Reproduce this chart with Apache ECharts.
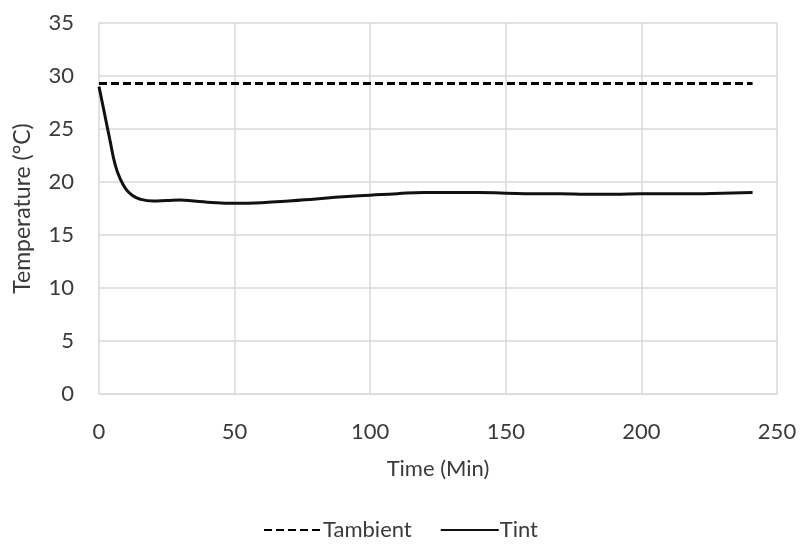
<!DOCTYPE html>
<html>
<head>
<meta charset="utf-8">
<script src="https://cdn.jsdelivr.net/npm/echarts@6/dist/echarts.min.js"></script>
<style>
  html, body { margin: 0; padding: 0; background: #fff; }
  #chart { width: 801px; height: 548px; }
</style>
</head>
<body>
<div id="chart"></div>
<script>
  // time axis (min) and readings
  var times = [0, 2, 4, 6, 8, 10, 12, 15, 20, 25, 30, 35, 40, 50, 60, 70, 80, 90, 100,
               110, 120, 130, 140, 150, 160, 170, 180, 190, 200, 210, 220, 230, 241];
  var tint  = [29.0, 26.5, 24.0, 21.6, 20.2, 19.3, 18.8, 18.4, 18.2, 18.25, 18.3, 18.2, 18.1,
               18.0, 18.05, 18.2, 18.4, 18.6, 18.75, 18.9, 19.0, 19.0, 19.0, 18.95, 18.9,
               18.9, 18.85, 18.85, 18.9, 18.9, 18.9, 18.95, 19.0];
  var ambTimes = [0, 241];
  var tambient = [29.3, 29.3];
  var xTicks = [0, 50, 100, 150, 200, 250];
  var yTicks = [0, 5, 10, 15, 20, 25, 30, 35];

  function pairs(xs, ys) {
    return xs.map(function (x, i) { return [x, ys[i]]; });
  }

  var font = 'Lato, "Open Sans", sans-serif';
  var textColor = '#3a3a3a';
  var gridColor = '#d9d9d9';

  var chart = echarts.init(document.getElementById('chart'));
  chart.setOption({
    animation: false,
    textStyle: { fontFamily: font },
    grid: { left: 99, right: 24, top: 23, bottom: 154 },
    legend: {
      bottom: 2,
      left: 'center',
      itemWidth: 58,
      itemHeight: 14,
      itemGap: 28,
      itemStyle: { opacity: 0 },
      textStyle: { fontSize: 22, color: textColor, fontFamily: font, padding: [0, 0, 0, -4] },
      data: ['Tambient', 'Tint']
    },
    xAxis: {
      type: 'value',
      min: xTicks[0],
      max: xTicks[xTicks.length - 1],
      interval: 50,
      name: 'Time (Min)',
      nameLocation: 'middle',
      nameGap: 64,
      nameTextStyle: { fontSize: 22, color: textColor, fontFamily: font },
      axisLine: { show: true, lineStyle: { color: gridColor } },
      axisTick: { show: false },
      axisLabel: { fontSize: 22, color: textColor, margin: 27, fontFamily: font },
      splitLine: { show: true, lineStyle: { color: gridColor, width: 1.5 } }
    },
    yAxis: {
      type: 'value',
      min: yTicks[0],
      max: yTicks[yTicks.length - 1],
      interval: 5,
      name: 'Temperature (°C)',
      nameLocation: 'middle',
      nameGap: 65,
      nameTextStyle: { fontSize: 23, color: textColor, fontFamily: font },
      axisLine: { show: false },
      axisTick: { show: false },
      axisLabel: { fontSize: 22, color: textColor, margin: 25, fontFamily: font },
      splitLine: { show: true, lineStyle: { color: gridColor, width: 1.5 } }
    },
    series: [{
      name: 'Tambient',
      type: 'line',
      symbol: 'none',
      data: pairs(ambTimes, tambient),
      lineStyle: { color: '#000', width: 3, type: [8, 4] },
      itemStyle: { color: '#000' }
    }, {
      name: 'Tint',
      type: 'line',
      symbol: 'none',
      smooth: 0.5,
      data: pairs(times, tint),
      lineStyle: { color: '#111', width: 3 },
      itemStyle: { color: '#111' }
    }]
  });
</script>
</body>
</html>
